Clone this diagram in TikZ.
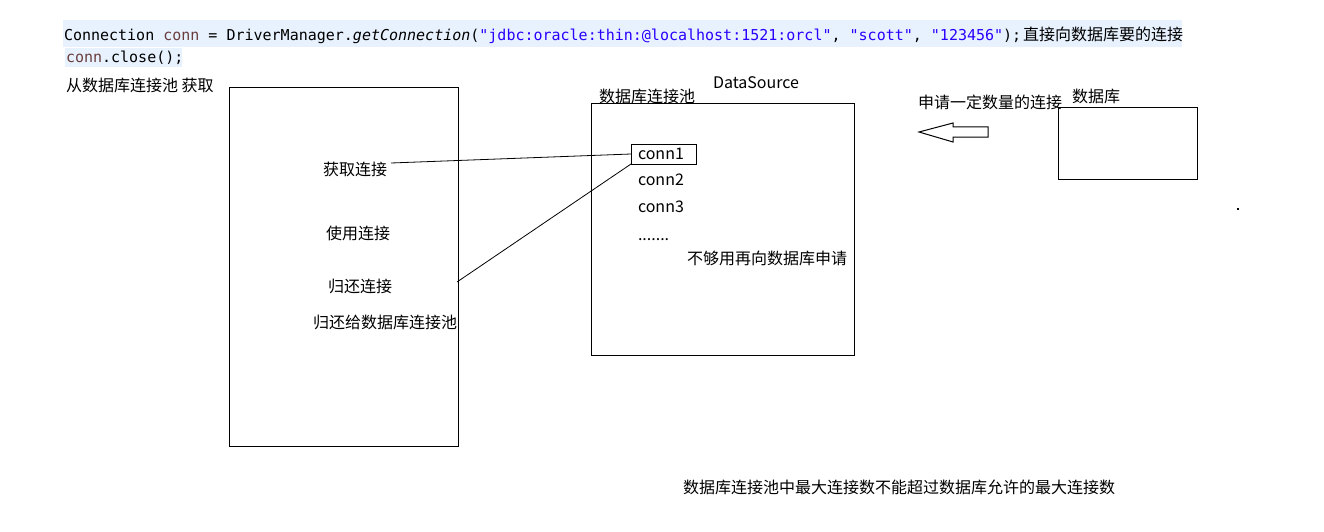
\documentclass[tikz,border=0pt]{standalone}
\usepackage{fontspec}
\setmainfont{Noto Sans CJK SC}
\newfontfamily\codefont{DejaVu Sans Mono}
\definecolor{codebg}{HTML}{E8F2FE}
\definecolor{codevar}{HTML}{6A3E3E}
\definecolor{codestr}{HTML}{2A00FF}
\tikzset{
  lbl/.style={inner sep=0pt, outer sep=0pt, anchor=west, font=\fontsize{16}{19}\selectfont},
  code/.style={inner sep=0pt, outer sep=0pt, anchor=base west, font=\codefont\fontsize{15}{18}\selectfont},
  frame/.style={draw, line width=1pt, inner sep=0pt, outer sep=0pt},
  link/.style={line width=0.8pt}
}
\begin{document}
\begin{tikzpicture}[x=1pt,y=-1pt]
\useasboundingbox (0,0) rectangle (1324,532);
% code backgrounds
\fill[codebg] (63,20) rectangle (1182,47);
\fill[codebg] (65,48) rectangle (182,67);
\node[code] (line1) at (64,41) {Connection {\color{codevar}conn} = DriverManager.{\itshape getConnection}({\color{codestr}"jdbc:oracle:thin:@localhost:1521:orcl"}, {\color{codestr}"scott"}, {\color{codestr}"123456"});};
\node[lbl, anchor=base west] (direct) at (1023,41) {直接向数据库要的连接};
\node[code] (line2) at (66,63) {{\color{codevar}conn}.close();};
\node[lbl] (fromPool) at (66,85) {从数据库连接池 获取};
% client box
\node[frame, minimum width=229, minimum height=358] (client) at (343.5,267) {};
\node[lbl] (get) at (323,169) {获取连接};
\node[lbl] (use) at (326,233) {使用连接};
\node[lbl] (ret) at (328,286) {归还连接};
\node[lbl] (retpool) at (313,322) {归还给数据库连接池};
% pool box
\node[frame, minimum width=263, minimum height=251] (pool) at (722.5,229.5) {};
\node[lbl] (poolname) at (599,96) {数据库连接池};
\node[lbl] (ds) at (713,83) {DataSource};
\node[frame, minimum width=65, minimum height=20] (c1box) at (663.5,154) {};
\node[lbl] (c1) at (638,154) {conn1};
\node[lbl] (c2) at (638,180) {conn2};
\node[lbl] (c3) at (638,207) {conn3};
\node[lbl, anchor=base west] (dots) at (638,240) {.......};
\node[lbl] (more) at (687,258) {不够用再向数据库申请};
% database
\node[frame, minimum width=139, minimum height=71] (db) at (1127.5,143.5) {};
\node[lbl] (dbname) at (1072,96) {数据库};
\node[lbl] (apply) at (918,102) {申请一定数量的连接};
% hollow arrow
\draw[line width=1pt] (919,132) -- (953,123) -- (953,127) -- (988,127) -- (988,137) -- (953,137) -- (953,142) -- cycle;
% dot
\fill (1237,208) rectangle (1239,210);
% connectors
\coordinate (retpt) at (457,282);
\draw[link] (391,163) -- (c1box.west);
\draw[link] (c1box.south west) -- (retpt);
% bottom note
\node[lbl] (note) at (683,487) {数据库连接池中最大连接数不能超过数据库允许的最大连接数};
\end{tikzpicture}
\end{document}
